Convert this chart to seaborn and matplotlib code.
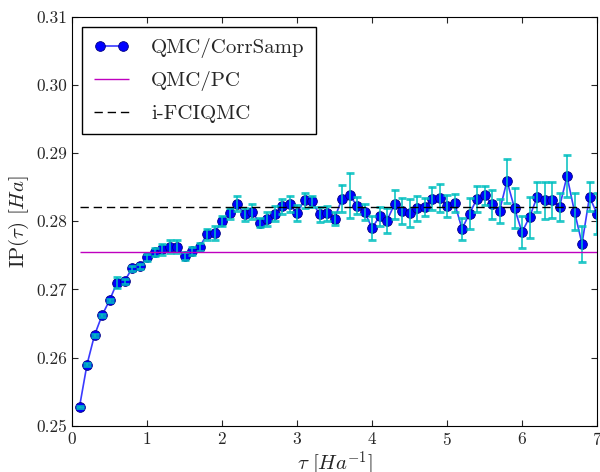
import numpy as np
import matplotlib
matplotlib.use("Agg")
import matplotlib.pyplot as plt
import seaborn as sns

# imaginary time steps (0.1 ... 7.0)
tau = np.round(np.arange(1, 71) * 0.1, 1)

ip = [0.2528, 0.2590, 0.2633, 0.2662, 0.2684, 0.2710, 0.2712, 0.2731, 0.2734, 0.2747,
      0.2755, 0.2759, 0.2763, 0.2763, 0.2749, 0.2757, 0.2762, 0.2781, 0.2783, 0.2800,
      0.2812, 0.2826, 0.2810, 0.2814, 0.2798, 0.2803, 0.2811, 0.2822, 0.2825, 0.2812,
      0.2831, 0.2829, 0.2810, 0.2812, 0.2804, 0.2833, 0.2838, 0.2823, 0.2814, 0.2790,
      0.2807, 0.2801, 0.2825, 0.2815, 0.2812, 0.2819, 0.2821, 0.2833, 0.2834, 0.2822,
      0.2827, 0.2789, 0.2811, 0.2833, 0.2838, 0.2825, 0.2815, 0.2859, 0.2819, 0.2784,
      0.2806, 0.2835, 0.2831, 0.2831, 0.2821, 0.2866, 0.2814, 0.2767, 0.2836, 0.2811]

ip_err = [0.0002, 0.0002, 0.0002, 0.0002, 0.0002, 0.0008, 0.0004, 0.0004, 0.0004, 0.0005,
          0.0006, 0.0008, 0.0009, 0.0010, 0.0006, 0.0006, 0.0006, 0.0008, 0.0010, 0.0007,
          0.0008, 0.0011, 0.0010, 0.0011, 0.0007, 0.0010, 0.0011, 0.0011, 0.0012, 0.0012,
          0.0011, 0.0008, 0.0011, 0.0011, 0.0010, 0.0020, 0.0033, 0.0013, 0.0012, 0.0018,
          0.0014, 0.0018, 0.0021, 0.0019, 0.0021, 0.0018, 0.0013, 0.0017, 0.0020, 0.0016,
          0.0013, 0.0016, 0.0023, 0.0019, 0.0014, 0.0021, 0.0017, 0.0032, 0.0029, 0.0023,
          0.0030, 0.0022, 0.0027, 0.0026, 0.0020, 0.0031, 0.0027, 0.0026, 0.0021, 0.0030]

ip_pc = 0.2755
ip_fciqmc = 0.2821

sns.set_style("ticks", rc={
    "xtick.direction": "in",
    "ytick.direction": "in",
    "xtick.top": True,
    "ytick.right": True,
    "axes.edgecolor": "black",
    "axes.linewidth": 1.0,
})
plt.rcParams["font.family"] = ["cmr10", "DejaVu Serif"]
plt.rcParams["mathtext.fontset"] = "cm"
plt.rcParams["axes.formatter.use_mathtext"] = True
plt.rcParams["legend.numpoints"] = 2

fig, ax = plt.subplots(figsize=(6, 4.72), dpi=100)
fig.subplots_adjust(left=0.12, right=0.995, bottom=0.0975, top=0.965)

sns.lineplot(x=tau, y=ip, ax=ax, color="#3a3aff", lw=1.2, marker="o", markersize=7,
             markerfacecolor="b", markeredgecolor="#000080", markeredgewidth=0.6,
             label="QMC/CorrSamp")
ax.errorbar(tau, ip, yerr=ip_err, fmt="none", ecolor="c", elinewidth=1.3,
            capsize=3, capthick=2, alpha=0.85)
ax.hlines(ip_pc, tau[0], tau[-1], color="m", lw=1.0, label="QMC/PC")
ax.hlines(ip_fciqmc, tau[0], tau[-1], color="black", lw=1.0,
          linestyles=(0, (6, 3.5)), label="i-FCIQMC")

ax.set_xlim(0, 7)
ax.set_ylim(0.25, 0.31)
ax.set_xticks(range(0, 8))
ax.set_yticks([0.25, 0.26, 0.27, 0.28, 0.29, 0.30, 0.31])
ax.set_yticklabels(["0.25", "0.26", "0.27", "0.28", "0.29", "0.30", "0.31"])
ax.tick_params(labelsize=12.5, length=4)

ax.set_xlabel(r"$\tau\ [Ha^{-1}]$", fontsize=15, labelpad=1)
ax.set_ylabel(r"$\mathrm{IP}(\tau)\ [Ha]$", fontsize=15, labelpad=4)

leg = ax.legend(loc="upper left", fontsize=15, fancybox=False, framealpha=1,
                edgecolor="black", handlelength=1.7, handletextpad=1.05,
                labelspacing=0.62, borderpad=0.55)
leg.get_frame().set_linewidth(1.0)

plt.savefig("out.png", dpi=100)
